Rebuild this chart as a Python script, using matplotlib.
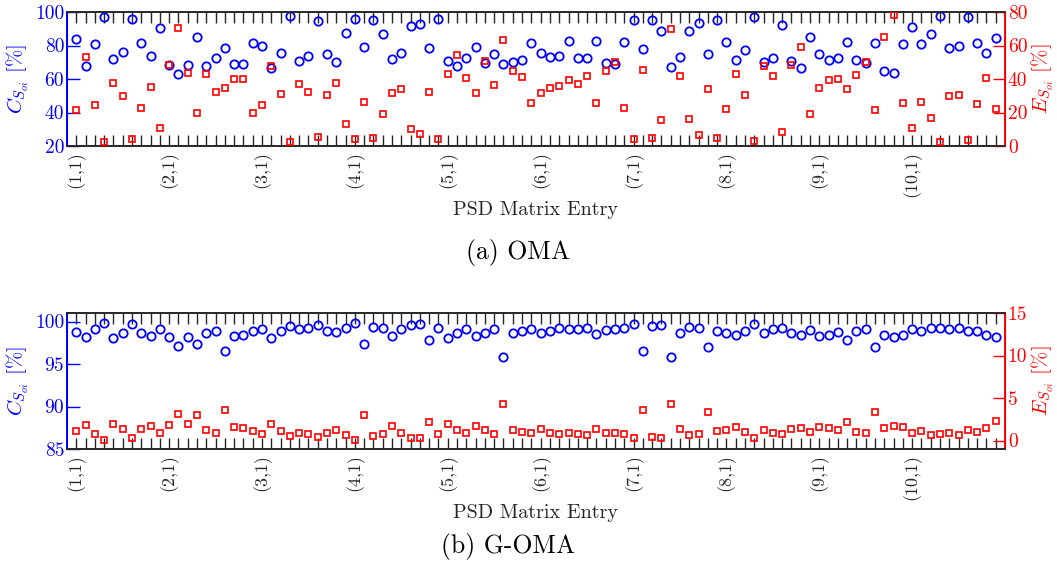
import matplotlib
matplotlib.use("Agg")
import matplotlib.pyplot as plt
import numpy as np

plt.rcParams['font.family'] = ['cmr10', 'DejaVu Serif']
plt.rcParams['mathtext.fontset'] = 'cm'
plt.rcParams['axes.unicode_minus'] = False

# PSD matrix entries (10 x 10), labelled at the first column of each row
entries = np.arange(1, 101)
row_labels = ['(%d,1)' % r for r in range(1, 11)]

# (a) OMA
oma_c = [83.9, 68.0, 81.1, 97.2, 72.1, 76.1, 95.6, 81.5, 73.7, 90.4,
         68.4, 63.2, 68.6, 84.9, 68.0, 72.7, 78.7, 69.0, 69.0, 81.7,
         79.9, 66.6, 75.5, 97.6, 70.5, 73.5, 94.6, 74.9, 70.3, 87.7,
         95.8, 79.3, 95.0, 86.7, 71.7, 75.5, 91.6, 93.0, 78.7, 95.8,
         70.9, 67.6, 72.3, 79.1, 69.4, 74.9, 69.0, 70.3, 71.5, 81.3,
         75.3, 73.1, 73.5, 82.7, 72.7, 72.3, 82.9, 69.6, 68.8, 82.3,
         95.4, 78.1, 95.4, 88.9, 67.0, 73.1, 88.7, 93.6, 74.9, 95.2,
         82.1, 71.3, 77.3, 97.2, 70.1, 72.3, 92.4, 70.5, 66.4, 85.1,
         74.7, 71.3, 72.3, 82.1, 71.5, 69.4, 81.5, 64.6, 63.8, 80.7,
         91.2, 81.1, 86.9, 97.4, 78.7, 79.9, 96.8, 81.3, 75.5, 84.5]
oma_e = [21.7, 53.1, 24.5, 2.6, 37.8, 29.9, 4.2, 22.9, 35.0, 10.7,
         48.2, 70.6, 43.6, 19.9, 43.0, 32.4, 34.4, 40.2, 39.8, 19.7,
         24.3, 47.6, 31.0, 2.4, 37.0, 32.0, 5.2, 30.2, 37.8, 12.9,
         4.0, 26.5, 4.8, 18.9, 31.4, 34.0, 10.3, 7.0, 32.0, 4.2,
         43.0, 54.1, 40.6, 31.6, 50.5, 36.2, 63.1, 44.6, 41.0, 25.7,
         31.8, 34.4, 36.0, 39.2, 37.2, 41.6, 25.7, 45.0, 49.9, 22.7,
         4.4, 45.4, 4.8, 15.7, 69.8, 41.6, 16.3, 6.6, 34.2, 4.8,
         22.3, 43.0, 30.6, 2.8, 47.8, 41.8, 8.2, 48.6, 59.1, 19.1,
         34.6, 39.2, 39.8, 33.8, 42.4, 49.9, 21.5, 65.1, 78.2, 25.7,
         10.7, 26.5, 16.5, 2.6, 29.9, 30.6, 3.4, 24.9, 40.8, 22.1]

# (b) G-OMA
goma_c = [98.82, 98.19, 99.14, 99.84, 98.04, 98.63, 99.65, 98.67, 98.27, 99.06,
          98.19, 97.17, 98.12, 97.33, 98.67, 98.94, 96.58, 98.35, 98.47, 98.86,
          99.14, 98.08, 98.90, 99.45, 99.06, 99.18, 99.53, 98.94, 98.74, 99.29,
          99.88, 97.33, 99.41, 99.21, 98.31, 99.10, 99.61, 99.69, 97.84, 99.21,
          98.04, 98.67, 99.06, 98.31, 98.70, 99.14, 95.88, 98.70, 98.90, 99.06,
          98.63, 98.94, 99.21, 99.06, 99.10, 99.29, 98.55, 99.02, 99.06, 99.29,
          99.65, 96.58, 99.49, 99.61, 95.88, 98.59, 99.33, 99.18, 97.02, 98.86,
          98.67, 98.39, 98.94, 99.69, 98.67, 99.06, 99.18, 98.63, 98.47, 98.98,
          98.31, 98.47, 98.74, 97.84, 98.94, 99.10, 97.02, 98.43, 98.23, 98.43,
          99.06, 98.90, 99.25, 99.25, 99.10, 99.29, 98.90, 98.94, 98.39, 98.23]
goma_e = [1.10, 1.77, 0.79, 0.04, 1.92, 1.30, 0.27, 1.30, 1.65, 0.86,
          1.77, 3.06, 2.00, 2.98, 1.26, 0.94, 3.53, 1.57, 1.49, 1.06,
          0.75, 2.00, 1.10, 0.55, 0.86, 0.71, 0.43, 0.94, 1.22, 0.67,
          0.08, 2.98, 0.55, 0.71, 1.69, 0.90, 0.35, 0.27, 2.20, 0.75,
          1.92, 1.26, 0.86, 1.69, 1.26, 0.79, 4.32, 1.26, 1.02, 0.90,
          1.33, 0.94, 0.71, 0.86, 0.79, 0.67, 1.37, 0.90, 0.86, 0.71,
          0.24, 3.53, 0.43, 0.35, 4.32, 1.41, 0.59, 0.75, 3.30, 1.14,
          1.26, 1.57, 0.98, 0.27, 1.22, 0.90, 0.79, 1.33, 1.45, 0.98,
          1.61, 1.49, 1.18, 2.20, 1.02, 0.86, 3.30, 1.49, 1.65, 1.53,
          0.86, 1.10, 0.63, 0.75, 0.90, 0.67, 1.18, 0.98, 1.49, 2.32]

BLUE = '#0000ff'
RED = '#ff0000'
DARK = '#262626'

fig = plt.figure(figsize=(10.57, 5.75), dpi=100)


def panel(rect, c_vals, e_vals, c_lim, c_ticks, e_lim, e_ticks,
          caption, cap_x, cap_y, xl_y):
    ax = fig.add_axes(rect)
    ax2 = ax.twinx()
    ax.plot(entries, c_vals, 'o', ms=6.0, mfc='none', mec=BLUE, mew=1.3, zorder=3)
    ax2.plot(entries, e_vals, 's', ms=4.0, mfc='none', mec=RED, mew=1.2, zorder=3)

    ax.set_xlim(0, 101)
    ax.set_ylim(*c_lim)
    ax.set_yticks(c_ticks)
    ax2.set_ylim(*e_lim)
    ax2.set_yticks(e_ticks)

    ax.set_xticks(entries)
    labels = ['' for _ in entries]
    for k, lab in enumerate(row_labels):
        labels[k * 10] = lab
    ax.set_xticklabels(labels, rotation=90, fontsize=13, color=DARK)

    ax.tick_params(axis='x', direction='in', top=True, length=8, width=1.0,
                   color=DARK, pad=4)
    ax.tick_params(axis='y', direction='in', length=9, width=1.0,
                   colors=BLUE, labelsize=14, pad=2)
    ax2.tick_params(axis='y', direction='in', length=9, width=1.0,
                    colors=RED, labelsize=14, pad=2)

    for a in (ax, ax2):
        a.spines['top'].set_color(DARK)
        a.spines['bottom'].set_color(DARK)
        a.spines['top'].set_linewidth(1.2)
        a.spines['bottom'].set_linewidth(1.2)
    ax2.spines['left'].set_color(BLUE)
    ax2.spines['left'].set_linewidth(1.4)
    ax2.spines['right'].set_color(RED)
    ax2.spines['right'].set_linewidth(1.4)

    ax.set_ylabel(r'$C_{S_{oi}}$ [%]', color=BLUE, fontsize=15, labelpad=3)
    ax2.set_ylabel(r'$E_{S_{oi}}$ [%]', color=RED, fontsize=15, labelpad=2)

    fig.text(0.507, xl_y, 'PSD Matrix Entry', ha='center', va='center',
             fontsize=14.5, color=DARK)
    fig.text(cap_x, cap_y, caption, ha='center', va='center', fontsize=18.5,
             color='black')
    return ax, ax2


panel([67 / 1057, (575 - 146) / 575, 938 / 1057, 134 / 575],
      oma_c, oma_e, (20, 100), [20, 40, 60, 80, 100], (0, 80),
      [0, 20, 40, 60, 80], '(a) OMA', 518 / 1057, 1 - 253 / 575, 1 - 210 / 575)

panel([67 / 1057, (575 - 449) / 575, 938 / 1057, 136 / 575],
      goma_c, goma_e, (85, 101), [85, 90, 95, 100], (-1, 15),
      [0, 5, 10, 15], '(b) G-OMA', 508 / 1057, 1 - 546 / 575, 1 - 513 / 575)

fig.savefig('out.png', dpi=100)
